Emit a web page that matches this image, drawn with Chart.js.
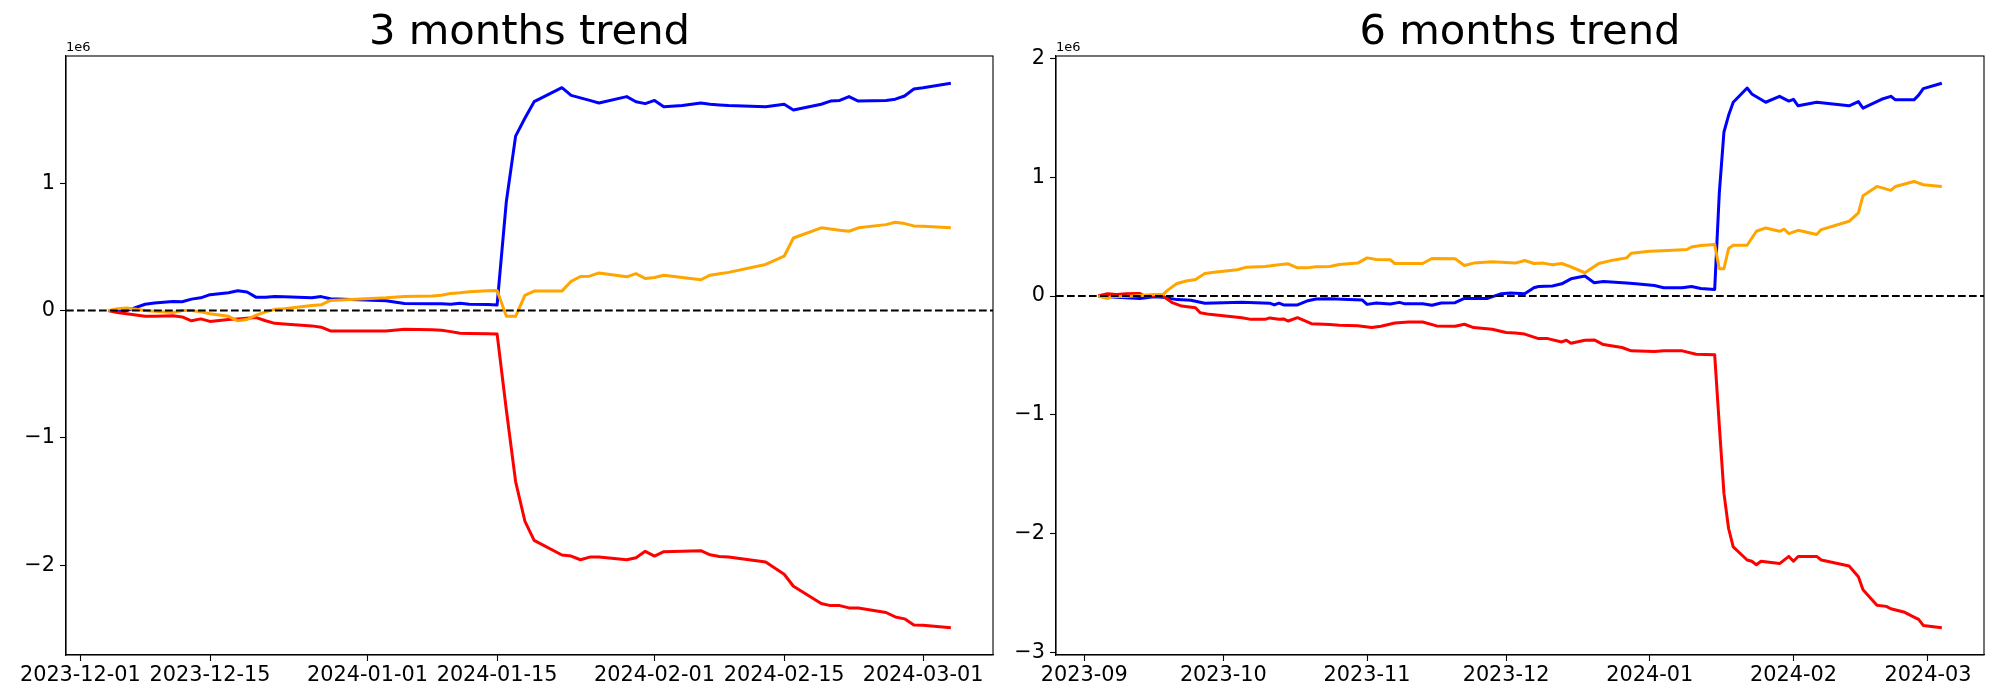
<!DOCTYPE html>
<html>
<head>
<meta charset="utf-8">
<script src="https://cdn.jsdelivr.net/npm/chart.js@4.4.1/dist/chart.umd.min.js"></script>
<style>
  body { margin: 0; background: #fff; }
  #wrap { position: relative; width: 2000px; height: 700px; }
  canvas { position: absolute; top: 0; }
</style>
</head>
<body>
<div id="wrap">
  <canvas id="chart3m" width="1000" height="700" style="left:0"></canvas>
  <canvas id="chart6m" width="1000" height="700" style="left:1000px"></canvas>
</div>
<script>
// all values in millions (axis offset text "1e6")

// 3 months trend
const dates3m = ["2023-12-04","2023-12-05","2023-12-06","2023-12-08","2023-12-09","2023-12-11","2023-12-12","2023-12-13","2023-12-14","2023-12-15","2023-12-16","2023-12-17","2023-12-18","2023-12-19","2023-12-20","2023-12-21","2023-12-22","2023-12-23","2023-12-26","2023-12-27","2023-12-28","2024-01-03","2024-01-05","2024-01-08","2024-01-09","2024-01-10","2024-01-11","2024-01-12","2024-01-14","2024-01-15","2024-01-16","2024-01-17","2024-01-18","2024-01-19","2024-01-22","2024-01-23","2024-01-24","2024-01-25","2024-01-26","2024-01-29","2024-01-30","2024-01-31","2024-02-01","2024-02-02","2024-02-04","2024-02-06","2024-02-07","2024-02-08","2024-02-09","2024-02-13","2024-02-15","2024-02-16","2024-02-19","2024-02-20","2024-02-21","2024-02-22","2024-02-23","2024-02-26","2024-02-27","2024-02-28","2024-02-29","2024-03-01","2024-03-04"];
const blue3m = [0, -0.005, 0.0, 0.05, 0.06, 0.072, 0.07, 0.09, 0.10, 0.125, 0.132, 0.14, 0.156, 0.146, 0.104, 0.104, 0.11, 0.108, 0.10, 0.11, 0.093, 0.078, 0.056, 0.054, 0.054, 0.05, 0.057, 0.05, 0.048, 0.044, 0.857, 1.37, 1.51, 1.64, 1.75, 1.69, 1.67, 1.65, 1.63, 1.68, 1.64, 1.625, 1.65, 1.60, 1.61, 1.63, 1.62, 1.615, 1.61, 1.60, 1.62, 1.575, 1.62, 1.645, 1.65, 1.68, 1.645, 1.65, 1.66, 1.685, 1.74, 1.75, 1.785];
const red3m = [0, -0.015, -0.025, -0.045, -0.045, -0.04, -0.05, -0.08, -0.065, -0.085, -0.078, -0.07, -0.065, -0.06, -0.055, -0.08, -0.10, -0.105, -0.12, -0.13, -0.16, -0.16, -0.147, -0.15, -0.155, -0.165, -0.178, -0.18, -0.182, -0.183, -0.78, -1.342, -1.652, -1.804, -1.919, -1.927, -1.956, -1.935, -1.935, -1.956, -1.94, -1.89, -1.927, -1.893, -1.89, -1.885, -1.917, -1.93, -1.935, -1.974, -2.07, -2.164, -2.30, -2.316, -2.316, -2.334, -2.334, -2.37, -2.405, -2.42, -2.468, -2.47, -2.49];
const orange3m = [0, 0.015, 0.02, 0.0, -0.005, -0.015, 0.0, 0.0, -0.01, -0.025, -0.035, -0.045, -0.08, -0.07, -0.035, -0.01, 0.01, 0.015, 0.04, 0.045, 0.08, 0.10, 0.11, 0.115, 0.12, 0.135, 0.14, 0.148, 0.155, 0.158, -0.045, -0.045, 0.12, 0.153, 0.153, 0.23, 0.268, 0.27, 0.296, 0.265, 0.29, 0.252, 0.26, 0.278, 0.26, 0.242, 0.278, 0.29, 0.30, 0.362, 0.427, 0.57, 0.65, 0.64, 0.63, 0.623, 0.65, 0.675, 0.693, 0.683, 0.665, 0.663, 0.65];
const xTicks3m = ["2023-12-01","2023-12-15","2024-01-01","2024-01-15","2024-02-01","2024-02-15","2024-03-01"];
const yTicks3m = [-2, -1, 0, 1];

// 6 months trend
const blueDates6m = ["2023-09-04","2023-09-08","2023-09-13","2023-09-16","2023-09-18","2023-09-21","2023-09-24","2023-09-27","2023-10-05","2023-10-11","2023-10-12","2023-10-13","2023-10-14","2023-10-17","2023-10-19","2023-10-21","2023-10-24","2023-10-28","2023-10-31","2023-11-01","2023-11-03","2023-11-06","2023-11-08","2023-11-09","2023-11-13","2023-11-15","2023-11-17","2023-11-20","2023-11-22","2023-11-27","2023-11-30","2023-12-02","2023-12-05","2023-12-07","2023-12-08","2023-12-11","2023-12-13","2023-12-15","2023-12-18","2023-12-20","2023-12-22","2023-12-27","2023-12-29","2024-01-02","2024-01-04","2024-01-08","2024-01-10","2024-01-12","2024-01-15","2024-01-16","2024-01-17","2024-01-18","2024-01-19","2024-01-22","2024-01-23","2024-01-26","2024-01-29","2024-01-31","2024-02-01","2024-02-02","2024-02-06","2024-02-13","2024-02-15","2024-02-16","2024-02-20","2024-02-22","2024-02-23","2024-02-27","2024-02-28","2024-02-29","2024-03-04"];
const blue6m = [0, -0.01, -0.02, -0.005, -0.01, -0.03, -0.036, -0.06, -0.053, -0.06, -0.075, -0.06, -0.075, -0.075, -0.042, -0.025, -0.022, -0.028, -0.034, -0.07, -0.059, -0.067, -0.053, -0.064, -0.064, -0.078, -0.059, -0.056, -0.02, -0.02, 0.02, 0.025, 0.02, 0.07, 0.08, 0.084, 0.103, 0.145, 0.168, 0.112, 0.123, 0.109, 0.103, 0.089, 0.07, 0.07, 0.081, 0.064, 0.056, 0.87, 1.38, 1.52, 1.63, 1.75, 1.70, 1.63, 1.68, 1.64, 1.655, 1.60, 1.63, 1.60, 1.635, 1.58, 1.655, 1.68, 1.65, 1.65, 1.69, 1.745, 1.79];
const redDates6m = ["2023-09-04","2023-09-06","2023-09-08","2023-09-10","2023-09-13","2023-09-14","2023-09-16","2023-09-18","2023-09-20","2023-09-22","2023-09-25","2023-09-26","2023-09-28","2023-10-05","2023-10-07","2023-10-10","2023-10-11","2023-10-13","2023-10-14","2023-10-15","2023-10-17","2023-10-20","2023-10-24","2023-10-26","2023-10-30","2023-11-02","2023-11-04","2023-11-07","2023-11-10","2023-11-13","2023-11-16","2023-11-20","2023-11-22","2023-11-24","2023-11-28","2023-12-01","2023-12-03","2023-12-05","2023-12-08","2023-12-10","2023-12-13","2023-12-14","2023-12-15","2023-12-18","2023-12-20","2023-12-22","2023-12-26","2023-12-28","2024-01-02","2024-01-04","2024-01-08","2024-01-11","2024-01-15","2024-01-16","2024-01-17","2024-01-18","2024-01-19","2024-01-22","2024-01-23","2024-01-24","2024-01-25","2024-01-29","2024-01-31","2024-02-01","2024-02-02","2024-02-06","2024-02-07","2024-02-13","2024-02-15","2024-02-16","2024-02-19","2024-02-21","2024-02-22","2024-02-25","2024-02-27","2024-02-28","2024-02-29","2024-03-04"];
const red6m = [0, 0.02, 0.014, 0.02, 0.022, 0, 0.003, 0, -0.056, -0.084, -0.098, -0.14, -0.154, -0.182, -0.196, -0.196, -0.184, -0.196, -0.193, -0.21, -0.182, -0.232, -0.24, -0.246, -0.249, -0.265, -0.254, -0.226, -0.218, -0.218, -0.251, -0.254, -0.237, -0.265, -0.279, -0.307, -0.31, -0.32, -0.358, -0.358, -0.386, -0.372, -0.397, -0.372, -0.369, -0.408, -0.433, -0.461, -0.467, -0.461, -0.461, -0.489, -0.494, -1.09, -1.66, -1.955, -2.11, -2.22, -2.23, -2.26, -2.23, -2.25, -2.19, -2.23, -2.19, -2.19, -2.22, -2.27, -2.36, -2.47, -2.60, -2.61, -2.63, -2.66, -2.70, -2.72, -2.77, -2.79];
const orangeDates6m = ["2023-09-04","2023-09-06","2023-09-07","2023-09-10","2023-09-16","2023-09-18","2023-09-19","2023-09-21","2023-09-23","2023-09-25","2023-09-27","2023-09-29","2023-10-04","2023-10-06","2023-10-10","2023-10-13","2023-10-15","2023-10-17","2023-10-19","2023-10-21","2023-10-24","2023-10-26","2023-10-30","2023-11-01","2023-11-03","2023-11-06","2023-11-07","2023-11-13","2023-11-15","2023-11-20","2023-11-22","2023-11-24","2023-11-28","2023-12-03","2023-12-05","2023-12-07","2023-12-09","2023-12-11","2023-12-13","2023-12-15","2023-12-18","2023-12-21","2023-12-24","2023-12-27","2023-12-28","2024-01-01","2024-01-05","2024-01-09","2024-01-10","2024-01-12","2024-01-15","2024-01-16","2024-01-17","2024-01-18","2024-01-19","2024-01-22","2024-01-24","2024-01-26","2024-01-29","2024-01-30","2024-01-31","2024-02-02","2024-02-06","2024-02-07","2024-02-13","2024-02-15","2024-02-16","2024-02-19","2024-02-22","2024-02-23","2024-02-27","2024-02-29","2024-03-04"];
const orange6m = [0, -0.022, -0.003, -0.003, 0.014, 0.014, 0.05, 0.106, 0.126, 0.14, 0.19, 0.201, 0.221, 0.243, 0.249, 0.263, 0.271, 0.237, 0.237, 0.246, 0.249, 0.265, 0.277, 0.321, 0.307, 0.305, 0.274, 0.274, 0.316, 0.313, 0.257, 0.277, 0.288, 0.277, 0.299, 0.274, 0.277, 0.263, 0.274, 0.246, 0.196, 0.274, 0.302, 0.321, 0.36, 0.377, 0.383, 0.391, 0.413, 0.425, 0.433, 0.23, 0.23, 0.40, 0.427, 0.427, 0.545, 0.573, 0.545, 0.562, 0.525, 0.553, 0.517, 0.559, 0.629, 0.699, 0.844, 0.922, 0.889, 0.922, 0.964, 0.936, 0.922];
const xTicks6m = ["2023-09-01","2023-10-01","2023-11-01","2023-12-01","2024-01-01","2024-02-01","2024-03-01"];
const yTicks6m = [-3, -2, -1, 0, 1, 2];

Chart.defaults.font.family = "'DejaVu Sans'";
Chart.defaults.color = "#000";

function toDay(s) {
  const [y, m, d] = s.split("-").map(Number);
  return Date.UTC(y, m - 1, d) / 86400000;
}
function dayLabel(v, monthOnly) {
  const s = new Date(Math.round(v) * 86400000).toISOString().slice(0, 10);
  return monthOnly ? s.slice(0, 7) : s;
}
function pts(ds, vs) {
  return ds.map((d, i) => ({ x: toDay(d), y: vs[i] }));
}
// matplotlib style 5% margins
function limits(arr) {
  const lo = Math.min(...arr), hi = Math.max(...arr), m = (hi - lo) * 0.05;
  return [lo - m, hi + m];
}

const framePlugin = {
  id: "frame",
  afterDraw(chart) {
    const { ctx, chartArea: a } = chart;
    ctx.save();
    ctx.strokeStyle = "#000";
    ctx.lineWidth = 1.1;
    ctx.strokeRect(a.left, a.top, a.right - a.left, a.bottom - a.top);
    ctx.fillStyle = "#000";
    ctx.font = "13px 'DejaVu Sans'";
    ctx.textAlign = "left";
    ctx.textBaseline = "alphabetic";
    ctx.fillText("1e6", a.left, a.top - 5);
    ctx.restore();
  }
};

function makeChart(id, title, series, xTicks, yTicks, monthOnly, yWidth, rightPad) {
  const allX = series.flatMap(s => s.data.map(p => p.x));
  const allY = series.flatMap(s => s.data.map(p => p.y));
  const [xMin, xMax] = limits(allX);
  const [yMin, yMax] = limits(allY);

  const datasets = series.map(s => ({
    data: s.data,
    borderColor: s.color,
    borderWidth: 3,
    borderJoinStyle: "round",
    pointRadius: 0,
    tension: 0,
    fill: false,
    order: s.order
  }));
  // dashed zero line across the whole axes
  datasets.push({
    data: [{ x: xMin, y: 0 }, { x: xMax, y: 0 }],
    borderColor: "#000",
    borderWidth: 2,
    borderDash: [7.7, 3.3],
    pointRadius: 0,
    order: 0
  });

  const tickFont = { family: "'DejaVu Sans'", size: 20.8 };
  const grid = { drawOnChartArea: false, tickLength: 6, tickColor: "#000", tickWidth: 1.1 };
  const border = { color: "#000", width: 1.1 };

  new Chart(document.getElementById(id), {
    type: "line",
    data: { datasets },
    options: {
      responsive: false,
      animation: false,
      layout: { padding: { left: 0, right: rightPad, top: 0, bottom: 0 } },
      plugins: {
        legend: { display: false },
        tooltip: { enabled: false },
        title: {
          display: true,
          text: title,
          fullSize: false,
          color: "#000",
          font: { family: "'DejaVu Sans'", size: 41.7, weight: "normal", lineHeight: 1 },
          padding: { top: 12, bottom: 2.3 }
        }
      },
      scales: {
        x: {
          type: "linear",
          min: xMin,
          max: xMax,
          afterBuildTicks: sc => { sc.ticks = xTicks.map(t => ({ value: toDay(t) })); },
          afterFit: sc => { sc.height = 45; },
          ticks: {
            autoSkip: false,
            maxRotation: 0,
            color: "#000",
            font: tickFont,
            padding: 2,
            callback: v => dayLabel(v, monthOnly)
          },
          grid,
          border
        },
        y: {
          min: yMin,
          max: yMax,
          afterBuildTicks: sc => { sc.ticks = yTicks.map(v => ({ value: v })); },
          afterFit: sc => { sc.width = yWidth; },
          ticks: {
            color: "#000",
            font: tickFont,
            padding: 5,
            callback: v => (v < 0 ? "\u2212" + Math.abs(v) : String(v))
          },
          grid,
          border
        }
      }
    },
    plugins: [framePlugin]
  });
}

makeChart("chart3m", "3 months trend", [
  { data: pts(dates3m, blue3m), color: "#0000ff", order: 3 },
  { data: pts(dates3m, red3m), color: "#ff0000", order: 2 },
  { data: pts(dates3m, orange3m), color: "#ffa500", order: 1 }
], xTicks3m, yTicks3m, false, 66, 7);

makeChart("chart6m", "6 months trend", [
  { data: pts(blueDates6m, blue6m), color: "#0000ff", order: 3 },
  { data: pts(redDates6m, red6m), color: "#ff0000", order: 2 },
  { data: pts(orangeDates6m, orange6m), color: "#ffa500", order: 1 }
], xTicks6m, yTicks6m, true, 56, 16);
</script>
</body>
</html>
